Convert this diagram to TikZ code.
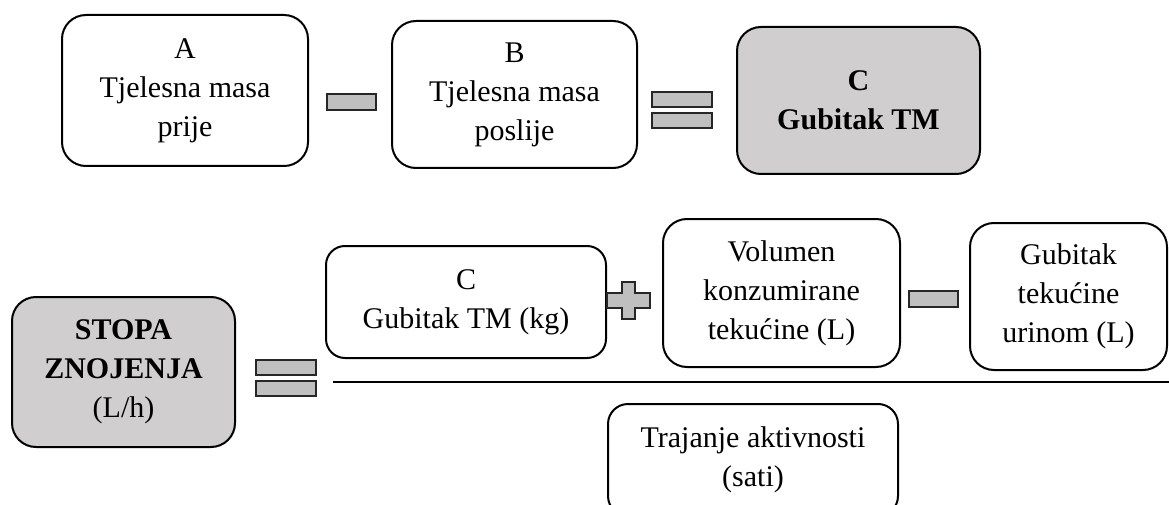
\documentclass[tikz,border=0pt]{standalone}
\usepackage{fontspec}
\setmainfont{Liberation Serif}
\usepackage{tikz}
\usetikzlibrary{positioning}
\definecolor{boxgray}{HTML}{D0CECE}
\definecolor{opgray}{HTML}{BFBFBF}
\tikzset{
  termbox/.style={draw=black, line width=2pt, rounded corners=24pt, align=center,
                  inner sep=2pt, font=\fontsize{30}{39}\selectfont},
  resultbox/.style={termbox, fill=boxgray},
  opsign/.style={draw=black!85, fill=opgray, line width=2.4pt},
  fracline/.style={line width=2.4pt}
}

\begin{document}
\begin{tikzpicture}[x=1pt,y=-1pt]

\useasboundingbox (0,0) rectangle (1169,505);

% first row: A - B = C
\node[termbox, minimum width=246pt, minimum height=151pt] (masaA) at (185,90.5)
  {A\\Tjelesna masa\\prije};
\node[termbox, minimum width=245pt, minimum height=147pt] (masaB) at (514.5,94.5)
  {B\\Tjelesna masa\\poslije};
\node[resultbox, minimum width=243pt, minimum height=147pt] (gubitakC) at (858.5,100.5)
  {\bfseries C\\\bfseries Gubitak TM};

\filldraw[opsign] (327,94) rectangle (376,110);
\filldraw[opsign] (652,92) rectangle (712,107);
\filldraw[opsign] (652,113) rectangle (712,128);

% second row: stopa znojenja
\node[resultbox, minimum width=223pt, minimum height=150pt] (stopa) at (123.5,372)
  {\bfseries STOPA\\\bfseries ZNOJENJA\\(L/h)};
\node[termbox, rounded corners=19pt, minimum width=280pt, minimum height=112pt] (gubitakKg) at (466,302)
  {C\\Gubitak TM (kg)};
\node[termbox, minimum width=237pt, minimum height=148pt] (volumen) at (781.5,293)
  {Volumen\\konzumirane\\tekućine (L)};
\node[termbox, minimum width=197pt, minimum height=147pt] (urin) at (1068.5,296.5)
  {Gubitak\\tekućine\\urinom (L)};
\node[termbox, rounded corners=20pt, minimum width=290pt, minimum height=112pt] (trajanje) at (753,460)
  {Trajanje aktivnosti\\(sati)};

\filldraw[opsign] (256,360) rectangle (316,375);
\filldraw[opsign] (256,381) rectangle (316,396);
\filldraw[opsign] (607,293) -- (622,293) -- (622,282) -- (635,282) -- (635,293) -- (650,293)
  -- (650,308) -- (635,308) -- (635,319) -- (622,319) -- (622,308) -- (607,308) -- cycle;
\filldraw[opsign] (909,291) rectangle (958,307);

\coordinate (fracL) at (333,382);
\coordinate (fracR) at (1169,382);
\draw[fracline] (fracL) -- (fracR);

\end{tikzpicture}
\end{document}
